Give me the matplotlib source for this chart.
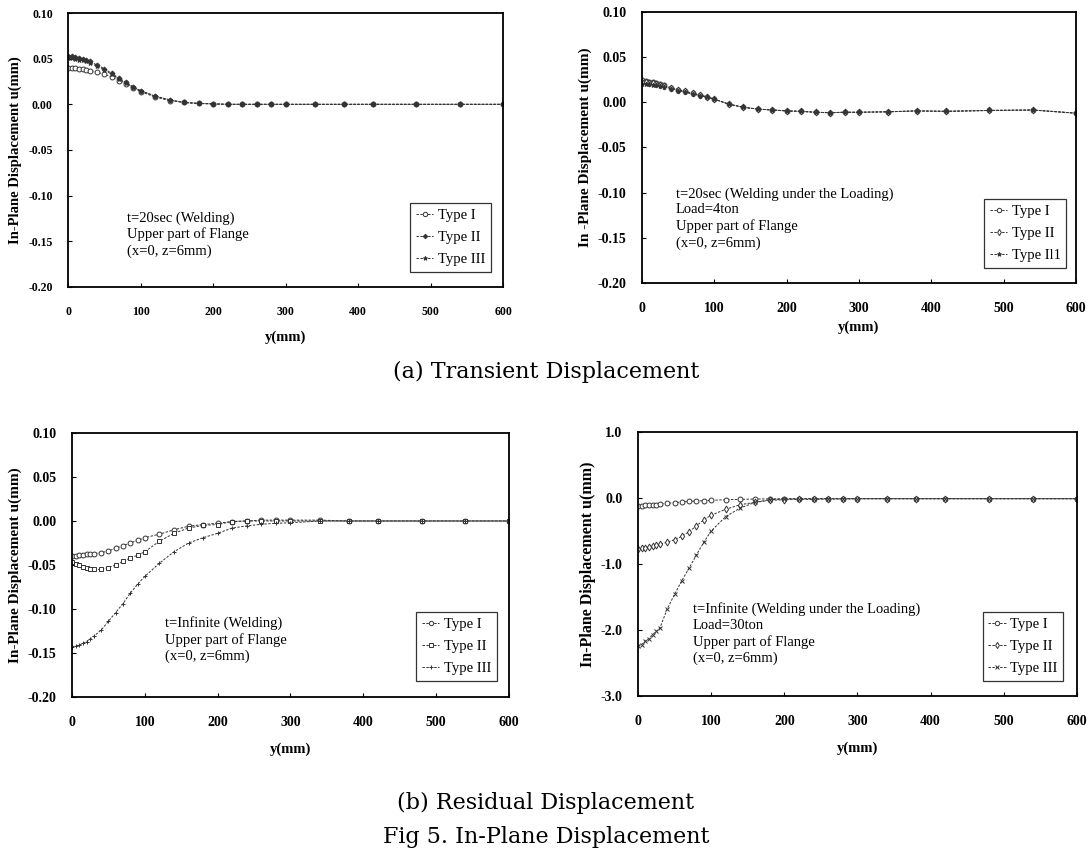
"""In-plane displacement panels (transient and residual) along the flange."""

import matplotlib
matplotlib.use("Agg")
import matplotlib.pyplot as plt

plt.rcParams["font.family"] = ["Liberation Serif", "DejaVu Serif"]

# positions along the flange, mm
y_mm = [0, 5, 10, 15, 20, 25, 30, 40, 50, 60, 70, 80, 90, 100, 120, 140, 160,
        180, 200, 220, 240, 260, 280, 300, 340, 380, 420, 480, 540, 600]

# (a) transient, t=20sec, welding
a1_type1 = [0.040, 0.040, 0.040, 0.039, 0.039, 0.038, 0.037, 0.035, 0.033, 0.030,
            0.026, 0.022, 0.018, 0.014, 0.008, 0.004, 0.002, 0.001, 0.0005, 0.0,
            0.0, 0.0, 0.0, 0.0, 0.0, 0.0, 0.0, 0.0, 0.0, 0.0]
a1_type2 = [0.053, 0.053, 0.052, 0.051, 0.050, 0.049, 0.047, 0.043, 0.039, 0.034,
            0.029, 0.024, 0.019, 0.015, 0.009, 0.005, 0.002, 0.001, 0.0005, 0.0,
            0.0, 0.0, 0.0, 0.0, 0.0, 0.0, 0.0, 0.0, 0.0, 0.0]
a1_type3 = [0.051, 0.051, 0.050, 0.049, 0.048, 0.047, 0.045, 0.042, 0.038, 0.033,
            0.028, 0.023, 0.019, 0.015, 0.009, 0.005, 0.002, 0.001, 0.0005, 0.0,
            0.0, 0.0, 0.0, 0.0, 0.0, 0.0, 0.0, 0.0, 0.0, 0.0]

# (a) transient, t=20sec, welding under 4ton load
a2_type1 = [0.025, 0.024, 0.023, 0.022, 0.021, 0.020, 0.019, 0.016, 0.014, 0.012,
            0.010, 0.008, 0.006, 0.0035, -0.002, -0.0055, -0.0075, -0.0085, -0.0095,
            -0.010, -0.011, -0.0115, -0.011, -0.011, -0.0105, -0.0095, -0.010,
            -0.009, -0.0085, -0.012]
a2_type2 = [0.022, 0.022, 0.021, 0.021, 0.020, 0.019, 0.018, 0.016, 0.014, 0.012,
            0.010, 0.008, 0.006, 0.0035, -0.002, -0.0055, -0.0075, -0.0085, -0.0095,
            -0.010, -0.011, -0.0115, -0.011, -0.011, -0.0105, -0.0095, -0.010,
            -0.009, -0.0085, -0.012]
a2_type3 = [0.020, 0.020, 0.020, 0.019, 0.019, 0.018, 0.017, 0.015, 0.013, 0.011,
            0.009, 0.0075, 0.0055, 0.0035, -0.002, -0.0055, -0.0075, -0.0085, -0.0095,
            -0.010, -0.011, -0.0115, -0.011, -0.011, -0.0105, -0.0095, -0.010,
            -0.009, -0.0085, -0.012]

# (b) residual, welding
b1_type1 = [-0.040, -0.040, -0.039, -0.039, -0.038, -0.038, -0.037, -0.036, -0.034,
            -0.031, -0.028, -0.025, -0.022, -0.019, -0.015, -0.010, -0.006, -0.004,
            -0.0025, -0.0006, 0.0, 0.001, 0.001, 0.001, 0.001, 0.0, 0.0, 0.0, 0.0, 0.0]
b1_type2 = [-0.047, -0.049, -0.050, -0.052, -0.053, -0.054, -0.055, -0.055, -0.053,
            -0.050, -0.046, -0.042, -0.039, -0.035, -0.023, -0.014, -0.008, -0.005,
            -0.004, -0.0006, 0.0, 0.0, 0.0, 0.0, 0.0, 0.0, 0.0, 0.0, 0.0, 0.0]
b1_type3 = [-0.143, -0.142, -0.141, -0.139, -0.137, -0.134, -0.131, -0.124, -0.114,
            -0.104, -0.094, -0.082, -0.072, -0.063, -0.048, -0.035, -0.025, -0.019,
            -0.014, -0.008, -0.0056, -0.0037, -0.0026, -0.002, 0.0, 0.0, 0.0, 0.0,
            0.0, 0.0]

# (b) residual, welding under 30ton load
b2_type1 = [-0.12, -0.12, -0.11, -0.11, -0.10, -0.10, -0.09, -0.08, -0.07, -0.06,
            -0.05, -0.045, -0.04, -0.035, -0.025, -0.02, -0.015, -0.012, -0.01,
            -0.01, -0.01, -0.01, -0.01, -0.01, -0.01, -0.01, -0.01, -0.01, -0.01, -0.01]
b2_type2 = [-0.77, -0.76, -0.75, -0.74, -0.73, -0.71, -0.70, -0.67, -0.63, -0.58,
            -0.51, -0.42, -0.33, -0.26, -0.17, -0.10, -0.065, -0.035, -0.025, -0.02,
            -0.02, -0.015, -0.015, -0.01, -0.01, -0.01, -0.01, -0.01, -0.01, -0.01]
b2_type3 = [-2.24, -2.22, -2.17, -2.13, -2.07, -2.02, -1.97, -1.68, -1.46, -1.25,
            -1.06, -0.86, -0.67, -0.50, -0.28, -0.15, -0.065, -0.025, -0.015, -0.01,
            -0.01, -0.01, -0.01, -0.01, -0.01, -0.01, -0.01, -0.01, -0.01, -0.01]

panels = [
    {
        "rect": [0.0623, 0.6667, 0.3984, 0.3182],
        "series": [a1_type1, a1_type2, a1_type3],
        "markers": ["o", "D", "*"],
        "ylim": (-0.20, 0.10),
        "yticks": [0.10, 0.05, 0.00, -0.05, -0.10, -0.15, -0.20],
        "yfmt": "{:.2f}",
        "ylabel": "In-Plane Displacement u(mm)",
        "ylabel_size": 10.5,
        "note": "t=20sec (Welding)\nUpper part of Flange\n(x=0, z=6mm)",
        "note_xy": (0.136, 0.277),
        "legend_labels": ["Type I", "Type II", "Type III"],
        "tick_size": 8.5,
        "ylabel_x": -0.121,
        "xlabel_y": -0.182,
        "legend_anchor": (0.989, 0.029),
    },
    {
        "rect": [0.5879, 0.6713, 0.3974, 0.3148],
        "series": [a2_type1, a2_type2, a2_type3],
        "markers": ["o", "d", "*"],
        "ylim": (-0.20, 0.10),
        "yticks": [0.10, 0.05, 0.00, -0.05, -0.10, -0.15, -0.20],
        "yfmt": "{:.2f}",
        "ylabel": "In -Plane Displacement u(mm)",
        "ylabel_size": 11,
        "note": "t=20sec (Welding under the Loading)\nLoad=4ton\nUpper part of Flange\n(x=0, z=6mm)",
        "note_xy": (0.078, 0.354),
        "legend_labels": ["Type I", "Type II", "Type Il1"],
        "tick_size": 10,
        "ylabel_x": -0.131,
        "xlabel_y": -0.162,
        "legend_anchor": (0.995, 0.03),
    },
    {
        "rect": [0.0659, 0.1905, 0.4002, 0.3066],
        "series": [b1_type1, b1_type2, b1_type3],
        "markers": ["o", "s", "+"],
        "ylim": (-0.20, 0.10),
        "yticks": [0.10, 0.05, 0.00, -0.05, -0.10, -0.15, -0.20],
        "yfmt": "{:.2f}",
        "ylabel": "In-Plane Displacement u(mm)",
        "ylabel_size": 11,
        "note": "t=Infinite (Welding)\nUpper part of Flange\n(x=0, z=6mm)",
        "note_xy": (0.213, 0.307),
        "legend_labels": ["Type I", "Type II", "Type III"],
        "tick_size": 10,
        "ylabel_x": -0.129,
        "xlabel_y": -0.197,
        "legend_anchor": (0.989, 0.034),
    },
    {
        "rect": [0.5842, 0.1916, 0.4020, 0.3066],
        "series": [b2_type1, b2_type2, b2_type3],
        "markers": ["o", "d", "x"],
        "ylim": (-3.0, 1.0),
        "yticks": [1.0, 0.0, -1.0, -2.0, -3.0],
        "yfmt": "{:.1f}",
        "ylabel": "In-Plane Displacement u(mm)",
        "ylabel_size": 11.5,
        "note": "t=Infinite (Welding under the Loading)\nLoad=30ton\nUpper part of Flange\n(x=0, z=6mm)",
        "note_xy": (0.125, 0.356),
        "legend_labels": ["Type I", "Type II", "Type III"],
        "tick_size": 10,
        "ylabel_x": -0.114,
        "xlabel_y": -0.197,
        "legend_anchor": (0.986, 0.03),
    },
]

fig = plt.figure(figsize=(10.92, 8.61), dpi=100)

for panel in panels:
    ax = fig.add_axes(panel["rect"])
    for values, marker, label in zip(panel["series"], panel["markers"], panel["legend_labels"]):
        filled = marker in ("D", "*", "+", "x")
        ax.plot(
            y_mm,
            values,
            linestyle=(0, (2.5, 1.5)),
            linewidth=0.7,
            color="#333333",
            marker=marker,
            markersize=3.5 if marker != "D" else 2.5,
            markerfacecolor="#333333" if filled else "white",
            markeredgecolor="#333333",
            markeredgewidth=0.7,
            label=label,
        )
    ax.set_xlim(0, 600)
    ax.set_ylim(*panel["ylim"])
    ax.set_xticks([0, 100, 200, 300, 400, 500, 600])
    ax.set_yticks(panel["yticks"])
    ax.set_yticklabels([panel["yfmt"].format(v) for v in panel["yticks"]])
    ax.tick_params(direction="in", length=3, width=0.8, labelsize=panel["tick_size"])
    ax.tick_params(axis="x", pad=14)
    ax.tick_params(axis="y", pad=11)
    for tick in ax.get_xticklabels() + ax.get_yticklabels():
        tick.set_fontweight("bold")
    for spine in ax.spines.values():
        spine.set_linewidth(1.3)

    ax.set_ylabel(panel["ylabel"], fontsize=panel["ylabel_size"], fontweight="bold", va="center")
    ax.yaxis.set_label_coords(panel["ylabel_x"], 0.5)
    ax.set_xlabel("y(mm)", fontsize=10.5, fontweight="bold", va="center")
    ax.xaxis.set_label_coords(0.5, panel["xlabel_y"])

    ax.text(
        panel["note_xy"][0],
        panel["note_xy"][1],
        panel["note"],
        transform=ax.transAxes,
        fontsize=10.5,
        va="top",
        ha="left",
        linespacing=1.28,
    )

    leg = ax.legend(
        loc="lower right",
        bbox_to_anchor=panel["legend_anchor"],
        fontsize=10.5,
        frameon=True,
        fancybox=False,
        handlelength=1.2,
        handletextpad=0.3,
        labelspacing=0.6,
        borderpad=0.4,
        markerscale=0.9,
    )
    leg.get_frame().set_edgecolor("black")
    leg.get_frame().set_linewidth(0.9)

fig.text(0.5, 1 - 372 / 861, "(a) Transient Displacement", ha="center", va="center",
         fontsize=16, family=["DejaVu Serif"])
fig.text(0.5, 1 - 803 / 861, "(b) Residual Displacement", ha="center", va="center",
         fontsize=16, family=["DejaVu Serif"])
fig.text(0.5, 1 - 837 / 861, "Fig 5. In-Plane Displacement", ha="center", va="center",
         fontsize=16, family=["DejaVu Serif"])

fig.savefig("out.png", dpi=100)
